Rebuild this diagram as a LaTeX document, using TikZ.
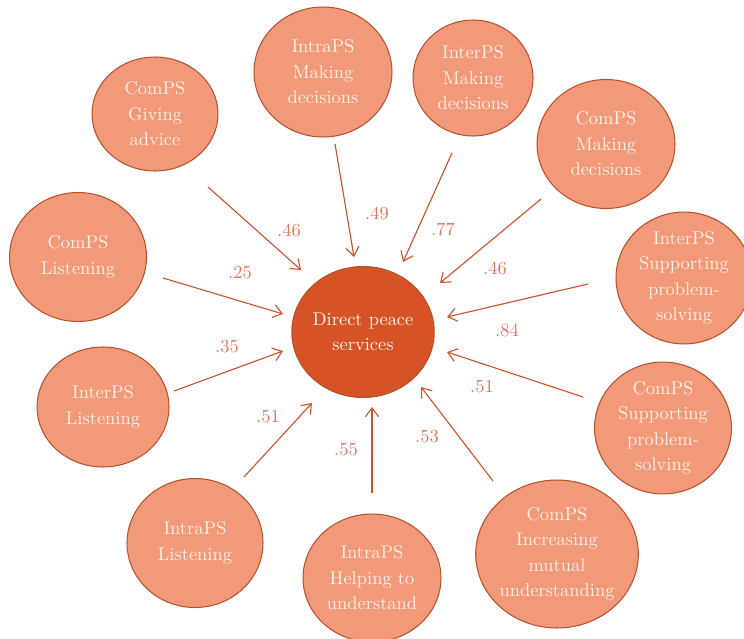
\documentclass[tikz,border=0pt]{standalone}
\usepackage{fontspec}
\usepackage{tikz}
\usetikzlibrary{shapes.geometric}
\usetikzlibrary{arrows.meta}

\definecolor{skillfill}{HTML}{F2997A}
\definecolor{skillline}{HTML}{B5532E}
\definecolor{peacefill}{HTML}{D55327}
\definecolor{pathline}{HTML}{C9562F}
\definecolor{coefcol}{HTML}{E0765F}
\definecolor{cream}{HTML}{FDF1E6}

\tikzset{
  skill/.style={draw=skillline, line width=0.6pt, fill=skillfill, ellipse, inner sep=0pt,
    text=cream, align=center, font=\fontsize{10.5}{14.5}\selectfont},
  outcome/.style={skill, fill=peacefill},
  link/.style={-{Straight Barb[length=5pt,width=7.5pt]}, draw=pathline, line width=0.65pt},
  coef/.style={text=coefcol, font=\fontsize{10.5}{12}\selectfont}
}

\begin{document}
\begin{tikzpicture}[x=0.02cm, y=0.02cm]
  \useasboundingbox (0,0) rectangle (744,-639);

  % outcome in the middle
  \node[outcome, minimum width=2.78cm, minimum height=2.62cm] (dps) at (363,-332) {Direct peace\\services};

  % predictors around it
  \node[skill, minimum width=2.52cm, minimum height=2.28cm] (adv) at (155,-114) {ComPS\\Giving\\advice};
  \node[skill, minimum width=2.76cm, minimum height=2.6cm] (intraMD) at (323,-72) {IntraPS\\Making\\decisions};
  \node[skill, minimum width=2.4cm, minimum height=2.32cm] (interMD) at (473,-78) {InterPS\\Making\\decisions};
  \node[skill, minimum width=2.76cm, minimum height=2.58cm] (comMD) at (606,-144) {ComPS\\Making\\decisions};
  \node[skill, minimum width=2.72cm, minimum height=2.6cm] (interSP) at (684,-278) {InterPS\\Supporting\\problem-\\solving};
  \node[skill, minimum width=2.74cm, minimum height=2.58cm] (comSP) at (663,-428) {ComPS\\Supporting\\problem-\\solving};
  \node[skill, minimum width=3.18cm, minimum height=2.96cm] (comIMU) at (557,-554) {ComPS\\Increasing\\mutual\\understanding};
  \node[skill, minimum width=2.76cm, minimum height=2.56cm] (intraHU) at (372,-578) {IntraPS\\Helping to\\understand};
  \node[skill, minimum width=2.72cm, minimum height=2.58cm] (intraL) at (195,-543) {IntraPS\\Listening};
  \node[skill, minimum width=2.64cm, minimum height=2.4cm] (interL) at (103,-407) {InterPS\\Listening};
  \node[skill, minimum width=2.74cm, minimum height=2.58cm] (comL) at (78,-257) {ComPS\\Listening};

  % arrow ends, kept clear of the circles
  \coordinate (adv-o) at (208,-187);     \coordinate (adv-i) at (301,-270);
  \coordinate (intraMD-o) at (335,-144); \coordinate (intraMD-i) at (354,-257);
  \coordinate (interMD-o) at (452,-153); \coordinate (interMD-i) at (403,-262);
  \coordinate (comMD-o) at (541,-199);   \coordinate (comMD-i) at (440,-283);
  \coordinate (interSP-o) at (588,-284); \coordinate (interSP-i) at (447,-317);
  \coordinate (comSP-o) at (583,-397);   \coordinate (comSP-i) at (447,-352);
  \coordinate (comIMU-o) at (493,-481);  \coordinate (comIMU-i) at (421,-387);
  \coordinate (intraHU-o) at (372,-493); \coordinate (intraHU-i) at (372,-407);
  \coordinate (intraL-o) at (244,-477);  \coordinate (intraL-i) at (312,-403);
  \coordinate (interL-o) at (174,-391);  \coordinate (interL-i) at (283,-351);
  \coordinate (comL-o) at (163,-278);    \coordinate (comL-i) at (283,-314);

  \draw[link] (adv-o) -- (adv-i);
  \draw[link] (intraMD-o) -- (intraMD-i);
  \draw[link] (interMD-o) -- (interMD-i);
  \draw[link] (comMD-o) -- (comMD-i);
  \draw[link] (interSP-o) -- (interSP-i);
  \draw[link] (comSP-o) -- (comSP-i);
  \draw[link] (comIMU-o) -- (comIMU-i);
  \draw[link] (intraHU-o) -- (intraHU-i);
  \draw[link] (intraL-o) -- (intraL-i);
  \draw[link] (interL-o) -- (interL-i);
  \draw[link] (comL-o) -- (comL-i);

  % path coefficients
  \node[coef] (c-adv) at (289,-230) {.46};
  \node[coef] (c-intraMD) at (377,-213) {.49};
  \node[coef] (c-interMD) at (443,-229) {.77};
  \node[coef] (c-comMD) at (495,-268) {.46};
  \node[coef] (c-interSP) at (507,-330) {.84};
  \node[coef] (c-comSP) at (482,-387) {.51};
  \node[coef] (c-comIMU) at (427,-437) {.53};
  \node[coef] (c-intraHU) at (346,-450) {.55};
  \node[coef] (c-intraL) at (268,-417) {.51};
  \node[coef] (c-interL) at (227,-347) {.35};
  \node[coef] (c-comL) at (240,-273) {.25};
\end{tikzpicture}
\end{document}
